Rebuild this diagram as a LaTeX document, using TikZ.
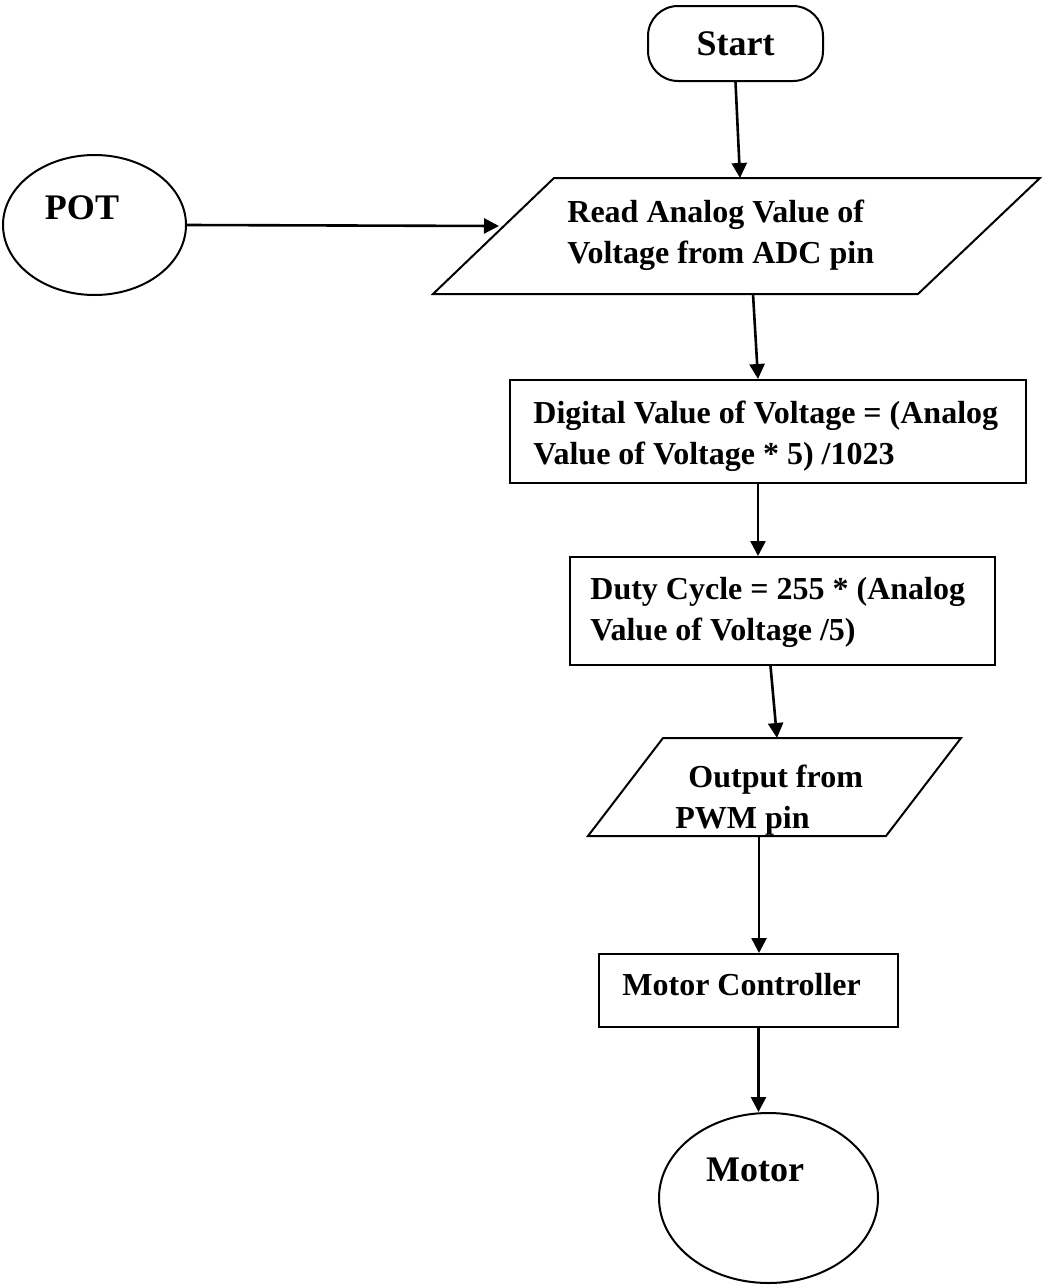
\documentclass[tikz,border=0pt]{standalone}
\usepackage{fontspec}
\setmainfont{Liberation Serif}
\usetikzlibrary{positioning,shapes.geometric,arrows.meta}
\def\readshape{(554,178) -- (1040,178) -- (918,294) -- (433,294) -- cycle}
\def\outputshape{(663,738) -- (961,738) -- (886,836) -- (588,836) -- cycle}
\tikzset{
flowline/.style={line width=1pt},
arr/.style={line width=1.3pt, -{Triangle[length=7.5pt,width=7.5pt]}},
bigtext/.style={font=\bfseries\fontsize{18}{22}\selectfont},
smalltext/.style={font=\bfseries\fontsize{16}{20.5}\selectfont, align=left, inner sep=0pt, anchor=west},
procbox/.style={draw, flowline, inner sep=0pt}
}
\begin{document}
\begin{tikzpicture}[x=0.5pt,y=-0.5pt]
	\useasboundingbox (0,0) rectangle (1042,1285);
	% terminals and inputs
	\node[draw, flowline, rounded corners=15pt, minimum width=87.5pt, minimum height=37.5pt, bigtext] (start) at (735.5,43.5) {Start};
	\node[draw, flowline, ellipse, minimum width=91.5pt, minimum height=70pt, inner sep=0pt] (pot) at (94.5,225) {};
	\node[bigtext] (potlabel) at (82,207.5) {POT};
	\draw[flowline] \readshape \outputshape;
	\coordinate (readin) at (499,226);
	\coordinate (readtop) at (740,178);
	\coordinate (readbot) at (753,294);
	\coordinate (outtop) at (777,738);
	\coordinate (outbot) at (759,836);
	\node[smalltext] (readtext) at (567,235) {Read Analog Value of\\Voltage from ADC pin};
	% processing
	\node[procbox, minimum width=258pt, minimum height=51.5pt] (digital) at (768,431.5) {};
	\node[smalltext] (digitaltext) at (533,436) {Digital Value of Voltage = (Analog\\Value of Voltage * 5) /1023};
	\node[procbox, minimum width=212.5pt, minimum height=54pt] (duty) at (782.5,611) {};
	\node[smalltext] (dutytext) at (590,612) {Duty Cycle = 255 * (Analog\\Value of Voltage /5)};
	\node[smalltext] (outtext) at (675,800) {\hspace*{6.5pt}Output from\\PWM pin};
	\node[procbox, minimum width=149.5pt, minimum height=36.5pt] (mc) at (748.5,990.5) {};
	\node[smalltext] (mctext) at (622,985) {Motor Controller};
	\node[draw, flowline, ellipse, minimum width=109.5pt, minimum height=85pt, inner sep=0pt] (motor) at (768.5,1198) {};
	\node[bigtext] (motorlabel) at (755,1170) {Motor};
	% connectors
	\draw[arr] (start.south) -- (readtop);
	\draw[arr] (pot.east) -- (readin);
	\draw[arr] (readbot) -- ([xshift=-5pt]digital.north);
	\draw[arr] ([xshift=-5pt]digital.south) -- ([xshift=-5pt]digital.south |- duty.north);
	\draw[arr] ([xshift=-6pt]duty.south) -- (outtop);
	\draw[arr] (outbot) -- (outbot |- mc.north);
	\draw[arr] ([xshift=5pt]mc.south) -- ([xshift=5pt]mc.south |- motor.north);
\end{tikzpicture}
\end{document}
